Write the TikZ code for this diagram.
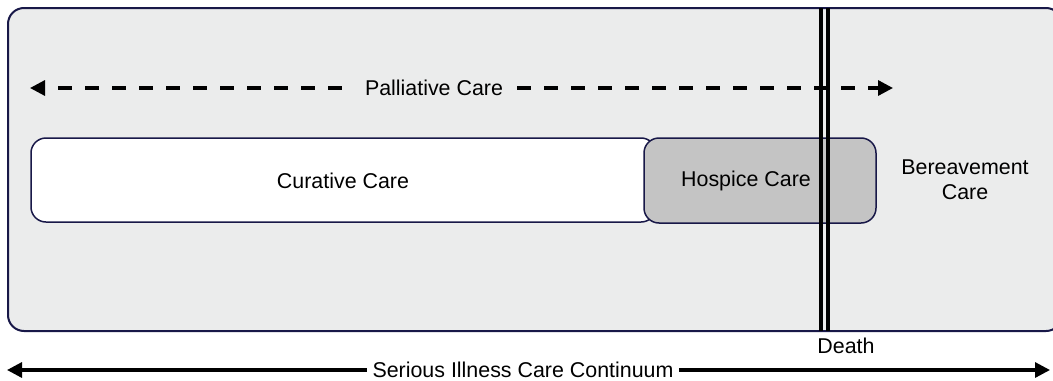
\documentclass[tikz,border=0pt]{standalone}
\usepackage{fontspec}
\setmainfont{Liberation Sans}
\usetikzlibrary{arrows.meta}
\definecolor{panelgray}{RGB}{235,236,236}
\definecolor{edgeblue}{RGB}{24,24,72}
\definecolor{hospgray}{RGB}{196,196,196}
\tikzset{
  carebox/.style={draw=edgeblue, line width=0.75pt, rounded corners=7.5pt},
  caretext/.style={font=\fontsize{10.7}{12.5}\selectfont, align=center},
}
\begin{document}
\begin{tikzpicture}[x=0.5pt,y=-0.5pt,>={Triangle[length=7.5pt,width=7.5pt]}]
  \useasboundingbox (0,0) rectangle (1053,380);
  \draw[fill=panelgray, draw=edgeblue, line width=1pt, rounded corners=8pt] (8,8) rectangle (1062,331);
  % palliative care runs along the whole stay
  \coordinate (palL) at (30,88);
  \coordinate (palR) at (893,88);
  \draw[<->, line width=1.6pt, dash pattern=on 7pt off 6.5pt, dash phase=6.5pt] (palL) -- (palR);
  \node[caretext, fill=panelgray, inner sep=6pt] (pal) at (434,88) {Palliative Care};
  \draw[carebox, fill=white] (31,138) rectangle (656,222);
  \node[caretext] (cur) at (343,181) {Curative Care};
  \draw[carebox, fill=hospgray] (644,138) rectangle (876,223);
  \node[caretext] (hosp) at (746,181) {Hospice Care};
  \node[caretext] (bereav) at (965,180) {Bereavement\\Care};
  % death marker
  \draw[line width=1.7pt] (821,8) -- (821,331) (828,8) -- (828,331);
  \node[caretext] (death) at (846,346) {Death};
  % continuum
  \coordinate (contL) at (7,370);
  \coordinate (contR) at (1050,370);
  \draw[<->, line width=1.6pt] (contL) -- (contR);
  \node[caretext, fill=white, inner sep=3pt] (cont) at (523,370) {Serious Illness Care Continuum};
\end{tikzpicture}
\end{document}
